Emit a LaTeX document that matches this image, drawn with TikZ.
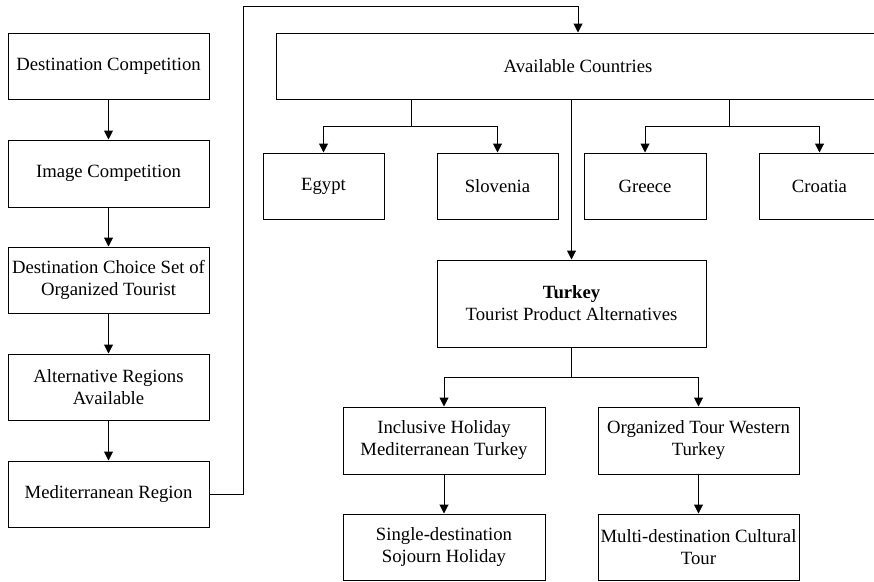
\documentclass[tikz,border=0pt]{standalone}
\usepackage{fontspec}
\setmainfont{Liberation Serif}
\usepackage{tikz}
\usetikzlibrary{arrows.meta}

\begin{document}
\begin{tikzpicture}[x=1pt,y=-1pt,line width=1pt,
  box/.style={draw,align=center,inner sep=1pt,font=\fontsize{18.7}{22}\selectfont},
  arr/.style={-{Triangle[length=9pt,width=9pt]}}]
\useasboundingbox (0,0) rectangle (874,581);
% left column
\node [box,minimum width=201,minimum height=66] (dc) at (108.5,66) {Destination Competition};
\node [box,minimum width=201,minimum height=67] (ic) at (108.5,173.5) {Image Competition};
\node [box,minimum width=201,minimum height=66] (ds) at (108.5,280) {Destination Choice Set of\\Organized Tourist};
\node [box,minimum width=201,minimum height=66] (ar) at (108.5,387) {Alternative Regions\\Available};
\node [box,minimum width=201,minimum height=66] (mr) at (108.5,494) {Mediterranean Region};
\draw [arr] (dc) -- (ic);
\draw [arr] (ic) -- (ds);
\draw [arr] (ds) -- (ar);
\draw [arr] (ar) -- (mr);
% countries
\node [box,minimum width=604,minimum height=66] (ac) at (578,66) {Available Countries};
\coordinate (bend) at (243,6);
\draw [arr] (mr.east) -| (bend) -| (ac.north);
\node [box,minimum width=121,minimum height=66] (eg) at (323.5,186) {Egypt};
\node [box,minimum width=121,minimum height=66] (sl) at (497.5,186) {Slovenia};
\node [box,minimum width=122,minimum height=66] (gr) at (645,186) {Greece};
\node [box,minimum width=121,minimum height=66] (cr) at (819.5,186) {Croatia};
\coordinate (forka) at (411,126);
\coordinate (forkb) at (729,126);
\draw (ac.south -| forka) -- (forka);
\draw [arr] (forka) -| (eg.north);
\draw [arr] (forka) -| (sl.north);
\draw (ac.south -| forkb) -- (forkb);
\draw [arr] (forkb) -| (gr.north);
\draw [arr] (forkb) -| (cr.north);
% turkey
\node [box,minimum width=269,minimum height=87] (tu) at (571.5,303.5) {\textbf{Turkey}\\Tourist Product Alternatives};
\draw [arr] (ac.south -| tu.north) -- (tu.north);
\node [box,minimum width=202,minimum height=67] (ih) at (444,440.5) {Inclusive Holiday\\Mediterranean Turkey};
\node [box,minimum width=201,minimum height=67] (ot) at (698.5,440.5) {Organized Tour Western\\Turkey};
\coordinate (forkc) at (571.5,377);
\draw (tu.south) -- (forkc);
\draw [arr] (forkc) -| (ih.north);
\draw [arr] (forkc) -| (ot.north);
\node [box,minimum width=202,minimum height=66] (sd) at (444,547) {Single-destination\\Sojourn Holiday};
\node [box,minimum width=201,minimum height=66] (md) at (698.5,547) {Multi-destination Cultural\\Tour};
\draw [arr] (ih) -- (sd);
\draw [arr] (ot) -- (md);
\end{tikzpicture}
\end{document}
